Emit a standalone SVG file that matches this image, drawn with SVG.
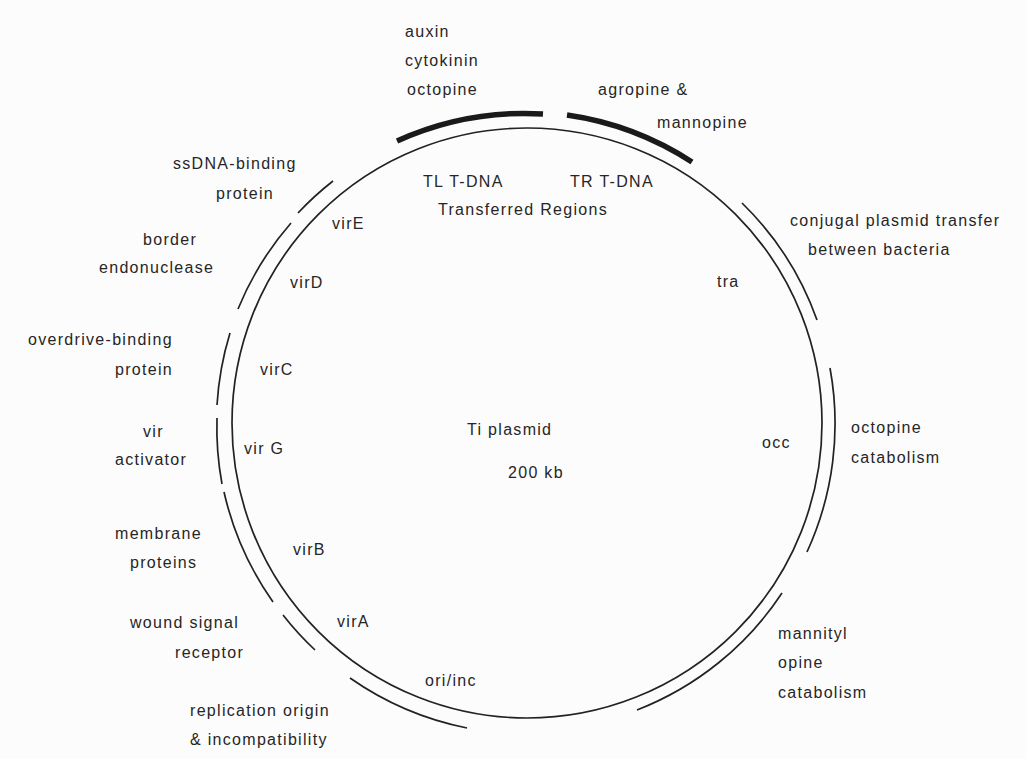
<svg xmlns="http://www.w3.org/2000/svg" width="1026" height="759" viewBox="0 0 1026 759">
<style>
text{font-family:"Liberation Sans",Arial,Helvetica,sans-serif;font-size:16px;letter-spacing:1.3px;fill:#262626}
.thin{fill:none;stroke:#222;stroke-width:1.7}
.thick{fill:none;stroke:#1a1a1a;stroke-width:5.5}
</style>
<rect width="1026" height="759" fill="#fcfcfc"/>
<g id="plasmid">
<circle cx="527" cy="423" r="295" class="thin"/>
<text x="467" y="435">Ti plasmid</text>
<text x="508" y="478">200 kb</text>
</g>
<g id="connectors">
<path id="arc-TL" class="thick" d="M397 141 A310 310 0 0 1 543 114"/>
<path id="arc-TR" class="thick" d="M567 115 A310 310 0 0 1 692 162"/>
<path id="arc-tra" class="thin" d="M742 203 A307 307 0 0 1 817 320"/>
<path id="arc-occ" class="thin" d="M830 368 A308 308 0 0 1 807 552"/>
<path id="arc-mannityl" class="thin" d="M782 593 A307 307 0 0 1 637 710"/>
<path id="arc-ori" class="thin" d="M467 728 A310 310 0 0 1 350 678"/>
<path id="arc-virA" class="thin" d="M315 650 A310 310 0 0 1 283 615"/>
<path id="arc-virB" class="thin" d="M273 602 A310 310 0 0 1 224 492"/>
<path id="arc-virG" class="thin" d="M222 484 A310 310 0 0 1 217 418"/>
<path id="arc-virC" class="thin" d="M217 405 A310 310 0 0 1 230 333"/>
<path id="arc-virD" class="thin" d="M238 309 A310 310 0 0 1 291 223"/>
<path id="arc-virE" class="thin" d="M298 213 A310 310 0 0 1 333 181"/>
</g>
<g id="TL">
<text x="405" y="37">auxin</text>
<text x="405" y="66">cytokinin</text>
<text x="407" y="95">octopine</text>
<text x="423" y="187">TL T-DNA</text>
</g>
<g id="TR">
<text x="598" y="95">agropine &amp;</text>
<text x="657" y="128">mannopine</text>
<text x="570" y="187">TR T-DNA</text>
</g>
<g id="transferred">
<text x="438" y="215">Transferred Regions</text>
</g>
<g id="tra">
<text x="790" y="226">conjugal plasmid transfer</text>
<text x="808" y="255">between bacteria</text>
<text x="717" y="287">tra</text>
</g>
<g id="occ">
<text x="851" y="433">octopine</text>
<text x="851" y="463">catabolism</text>
<text x="762" y="448">occ</text>
</g>
<g id="mannityl">
<text x="778" y="639">mannityl</text>
<text x="778" y="668">opine</text>
<text x="778" y="698">catabolism</text>
</g>
<g id="ori">
<text x="425" y="686">ori/inc</text>
<text x="190" y="716">replication origin</text>
<text x="190" y="745">&amp; incompatibility</text>
</g>
<g id="virA">
<text x="337" y="627">virA</text>
<text x="130" y="628">wound signal</text>
<text x="175" y="658">receptor</text>
</g>
<g id="virB">
<text x="293" y="555">virB</text>
<text x="115" y="539">membrane</text>
<text x="130" y="568">proteins</text>
</g>
<g id="virG">
<text x="244" y="454">vir G</text>
<text x="143" y="437">vir</text>
<text x="115" y="465">activator</text>
</g>
<g id="virC">
<text x="260" y="375">virC</text>
<text x="28" y="345">overdrive-binding</text>
<text x="115" y="375">protein</text>
</g>
<g id="virD">
<text x="290" y="288">virD</text>
<text x="143" y="245">border</text>
<text x="99" y="273">endonuclease</text>
</g>
<g id="virE">
<text x="332" y="229">virE</text>
<text x="173" y="169">ssDNA-binding</text>
<text x="216" y="199">protein</text>
</g>
</svg>
